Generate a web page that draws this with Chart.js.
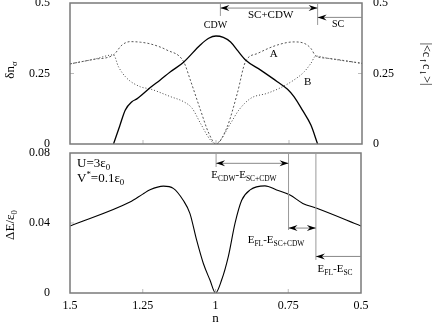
<!DOCTYPE html>
<html>
<head>
<meta charset="utf-8">
<script src="https://cdn.jsdelivr.net/npm/chart.js@4.4.0/dist/chart.umd.min.js"></script>
<style>
  html, body { margin: 0; padding: 0; background: #fff; }
  #wrap { position: relative; width: 436px; height: 327px; }
  canvas { position: absolute; left: 0; top: 0; }
</style>
</head>
<body>
<div id="wrap">
  <canvas id="topChart" width="436" height="327"></canvas>
  <canvas id="bottomChart" width="436" height="327"></canvas>
</div>
<script>
// axis ticks
const nTicks = [1.5, 1.25, 1, 0.75, 0.5];
const orderTicks = [0, 0.25, 0.5];
const energyTicks = [0, 0.04, 0.08];

// top panel: CDW order parameter (left axis)
const cdwN = [1.351, 1.33, 1.311, 1.288, 1.271, 1.225, 1.191, 1.156, 1.111, 1.053, 1.025, 1.0, 0.975, 0.95, 0.925, 0.899, 0.847, 0.79, 0.755, 0.733, 0.704, 0.675, 0.652];
const cdwVal = [0, 0.063, 0.12, 0.15, 0.16, 0.2, 0.227, 0.256, 0.29, 0.352, 0.375, 0.383, 0.378, 0.362, 0.33, 0.298, 0.262, 0.221, 0.194, 0.168, 0.12, 0.067, 0];

// top panel: SC amplitude, branch A (right axis)
const scAN = [1.5, 1.42, 1.351, 1.322, 1.294, 1.259, 1.225, 1.168, 1.111, 1.088, 1.053, 1.025, 1.0, 0.962, 0.927, 0.899, 0.858, 0.79, 0.733, 0.698, 0.675, 0.658, 0.618, 0.5];
const scAVal = [0.284, 0.3, 0.316, 0.351, 0.363, 0.361, 0.355, 0.333, 0.292, 0.227, 0.12, 0.039, 0, 0.06, 0.18, 0.292, 0.321, 0.351, 0.362, 0.357, 0.339, 0.312, 0.304, 0.286];

// top panel: SC amplitude, branch B (right axis)
const scBN = [1.5, 1.42, 1.351, 1.334, 1.305, 1.259, 1.225, 1.156, 1.111, 1.082, 1.053, 1.019, 1.0, 0.985, 0.95, 0.922, 0.881, 0.824, 0.778, 0.733, 0.698, 0.675, 0.658, 0.618, 0.5];
const scBVal = [0.284, 0.3, 0.316, 0.274, 0.233, 0.203, 0.195, 0.168, 0.15, 0.127, 0.073, 0.014, 0, 0.014, 0.073, 0.12, 0.162, 0.18, 0.2, 0.227, 0.256, 0.286, 0.312, 0.304, 0.286];

// bottom panel: energy difference
const dEN = [1.5, 1.294, 1.25, 1.225, 1.179, 1.145, 1.111, 1.088, 1.065, 1.042, 1.019, 1.0, 0.979, 0.956, 0.933, 0.91, 0.881, 0.83, 0.79, 0.744, 0.7, 0.652, 0.5];
const dEVal = [0.0383, 0.052, 0.0565, 0.059, 0.0611, 0.0598, 0.053, 0.0455, 0.0303, 0.017, 0.0074, 0, 0.0074, 0.0208, 0.0398, 0.053, 0.0589, 0.0612, 0.0589, 0.056, 0.0512, 0.0484, 0.0383];

const FONT = "'Liberation Serif', 'Times New Roman', serif";
Chart.defaults.font.family = FONT;
Chart.defaults.font.size = 12;
Chart.defaults.color = "#000";

const pts = (xs, ys) => xs.map((x, i) => ({ x: x, y: ys[i] }));
const fixTicks = (vals) => (scale) => { scale.ticks = vals.map((v) => ({ value: v })); };
const fixWidth = (w) => (scale) => { scale.width = w; scale.paddingTop = 0; scale.paddingBottom = 0; };

// text with sub/superscripts, parts = [[text, kind, family]], kind 1 = sub, 2 = sup
function rich(ctx, parts, x, y, size, align) {
  const fonts = parts.map((p) => (p[1] ? size * 0.68 : size) + "px " + (p[2] || FONT));
  let w = 0;
  parts.forEach((p, i) => { ctx.font = fonts[i]; w += ctx.measureText(p[0]).width; });
  let cx = align === "center" ? x - w / 2 : align === "right" ? x - w : x;
  ctx.textAlign = "left";
  ctx.textBaseline = "alphabetic";
  ctx.fillStyle = "#000";
  parts.forEach((p, i) => {
    ctx.font = fonts[i];
    const dy = p[1] === 1 ? size * 0.25 : p[1] === 2 ? -size * 0.4 : 0;
    ctx.fillText(p[0], cx, y + dy);
    cx += ctx.measureText(p[0]).width;
  });
}

function vline(ctx, x, y1, y2) {
  ctx.strokeStyle = "#999";
  ctx.lineWidth = 1;
  ctx.beginPath(); ctx.moveTo(x, y1); ctx.lineTo(x, y2); ctx.stroke();
}

function head(ctx, x, y, dir) {
  ctx.fillStyle = "#000";
  ctx.beginPath();
  ctx.moveTo(x, y);
  ctx.lineTo(x - dir * 9, y - 3);
  ctx.lineTo(x - dir * 6, y);
  ctx.lineTo(x - dir * 9, y + 3);
  ctx.closePath();
  ctx.fill();
}

function arrow(ctx, x1, x2, y, both) {
  ctx.strokeStyle = "#888";
  ctx.lineWidth = 1;
  ctx.beginPath(); ctx.moveTo(x1, y); ctx.lineTo(x2, y); ctx.stroke();
  const d = x2 > x1 ? 1 : -1;
  head(ctx, x2, y, d);
  if (both) head(ctx, x1, y, -d);
}

function drawFrame(chart, yIds) {
  const { ctx, chartArea: a, scales } = chart;
  ctx.save();
  ctx.strokeStyle = "#bbb";
  ctx.lineWidth = 1;
  nTicks.slice(1, -1).forEach((v) => {
    const x = scales.x.getPixelForValue(v);
    ctx.beginPath(); ctx.moveTo(x, a.bottom); ctx.lineTo(x, a.bottom - 4); ctx.stroke();
  });
  yIds.forEach((id) => {
    const s = scales[id];
    s.ticks.slice(1, -1).forEach((t) => {
      const y = s.getPixelForValue(t.value);
      const x0 = s.position === "left" ? a.left : a.right;
      const x1 = s.position === "left" ? a.left + 4 : a.right - 4;
      ctx.beginPath(); ctx.moveTo(x0, y); ctx.lineTo(x1, y); ctx.stroke();
    });
  });
  ctx.strokeStyle = "#7a7a7a";
  ctx.lineWidth = 1.5;
  ctx.strokeRect(a.left, a.top, a.right - a.left, a.bottom - a.top);
  ctx.restore();
}

const topDecor = {
  id: "topDecor",
  afterDatasetsDraw(chart) {
    const { ctx, scales } = chart;
    const X = (v) => scales.x.getPixelForValue(v);
    const Y = (v) => scales.y.getPixelForValue(v);
    drawFrame(chart, ["y", "y2"]);
    ctx.save();
    vline(ctx, X(0.985), Y(0.5), Y(0.454));
    vline(ctx, X(0.652), Y(0.5), Y(0.422));
    arrow(ctx, X(0.985), X(0.652), Y(0.482), true);
    arrow(ctx, X(0.5), X(0.652), Y(0.449), false);
    rich(ctx, [["CDW"]], X(1.002), Y(0.426) + 4, 10, "center");
    rich(ctx, [["SC+CDW"]], X(0.813), Y(0.461) + 4, 11, "center");
    rich(ctx, [["SC"]], X(0.582), Y(0.429) + 4, 10, "center");
    rich(ctx, [["A"]], X(0.802), Y(0.323) + 4, 11, "center");
    rich(ctx, [["B"]], X(0.686), Y(0.223) + 4, 11, "center");
    // axis titles
    ctx.save();
    ctx.translate(14, 70);
    ctx.rotate(-Math.PI / 2);
    rich(ctx, [["δn"], ["σ", 1]], 0, 0, 13, "center");
    ctx.restore();
    ctx.save();
    ctx.translate(423, 64);
    ctx.rotate(Math.PI / 2);
    rich(ctx, [["|<c"], ["\u2191", 1, "'DejaVu Serif'"], ["c"], ["\u2193", 1, "'DejaVu Serif'"], [">|"]], 0, 0, 12, "center");
    ctx.restore();
    ctx.restore();
  }
};

const bottomDecor = {
  id: "bottomDecor",
  afterDatasetsDraw(chart) {
    const { ctx, scales } = chart;
    const X = (v) => scales.x.getPixelForValue(v);
    const Y = (v) => scales.y.getPixelForValue(v);
    drawFrame(chart, ["y"]);
    ctx.save();
    vline(ctx, X(0.998), Y(0.08), Y(0.072));
    vline(ctx, X(0.749), Y(0.08), Y(0.036));
    vline(ctx, X(0.655), Y(0.08), Y(0.0189));
    arrow(ctx, X(0.998), X(0.749), Y(0.0741), true);
    arrow(ctx, X(0.749), X(0.655), Y(0.0371), true);
    arrow(ctx, X(0.5), X(0.655), Y(0.0209), false);
    rich(ctx, [["E"], ["CDW", 1], ["-E"], ["SC+CDW", 1]], X(0.902), Y(0.068) + 4, 11, "center");
    rich(ctx, [["E"], ["FL", 1], ["-E"], ["SC+CDW", 1]], X(0.792), Y(0.0309) + 4, 11, "center");
    rich(ctx, [["E"], ["FL", 1], ["-E"], ["SC", 1]], X(0.589), Y(0.0143) + 4, 11, "center");
    rich(ctx, [["U=3ε"], ["0", 1]], 77, 167, 13, "left");
    rich(ctx, [["V"], ["*", 2], ["=0.1ε"], ["0", 1]], 77, 182, 13, "left");
    ctx.save();
    ctx.translate(14, 225);
    ctx.rotate(-Math.PI / 2);
    rich(ctx, [["ΔE/ε"], ["0", 1]], 0, 0, 13, "center");
    ctx.restore();
    rich(ctx, [["n"]], X(1), 322, 13, "center");
    ctx.restore();
  }
};

const lineStyle = { pointRadius: 0, fill: false, cubicInterpolationMode: "monotone" };

new Chart(document.getElementById("topChart"), {
  type: "line",
  data: {
    datasets: [
      Object.assign({ data: pts(cdwN, cdwVal), borderColor: "#000", borderWidth: 1.3, yAxisID: "y" }, lineStyle),
      Object.assign({ data: pts(scAN, scAVal), borderColor: "#555", borderWidth: 1, borderDash: [2, 2], yAxisID: "y2" }, lineStyle),
      Object.assign({ data: pts(scBN, scBVal), borderColor: "#444", borderWidth: 1, borderDash: [1, 2], yAxisID: "y2" }, lineStyle)
    ]
  },
  options: {
    responsive: false,
    animation: false,
    layout: { padding: { top: 3, bottom: 183, left: 0, right: 0 } },
    plugins: { legend: { display: false }, tooltip: { enabled: false } },
    scales: {
      x: { type: "linear", min: 0.5, max: 1.5, reverse: true, display: false },
      y: {
        position: "left", min: 0, max: 0.5,
        afterBuildTicks: fixTicks(orderTicks), afterFit: fixWidth(70),
        grid: { display: false, drawTicks: false }, border: { display: false },
        ticks: { padding: 20, callback: (v) => String(v) }
      },
      y2: {
        position: "right", min: 0, max: 0.5,
        afterBuildTicks: fixTicks(orderTicks), afterFit: fixWidth(74),
        grid: { display: false, drawTicks: false }, border: { display: false },
        ticks: { padding: 11, callback: (v) => String(v) }
      }
    }
  },
  plugins: [topDecor]
});

new Chart(document.getElementById("bottomChart"), {
  type: "line",
  data: {
    datasets: [
      Object.assign({ data: pts(dEN, dEVal), borderColor: "#000", borderWidth: 1.1 }, lineStyle)
    ]
  },
  options: {
    responsive: false,
    animation: false,
    layout: { padding: { top: 153, bottom: 0, left: 0, right: 75 } },
    plugins: { legend: { display: false }, tooltip: { enabled: false } },
    scales: {
      x: {
        type: "linear", min: 0.5, max: 1.5, reverse: true,
        afterBuildTicks: fixTicks(nTicks),
        afterFit: (s) => { s.height = 34; },
        grid: { display: false, drawTicks: false }, border: { display: false },
        ticks: { padding: 6, maxRotation: 0, callback: (v) => String(v) }
      },
      y: {
        position: "left", min: 0, max: 0.08,
        afterBuildTicks: fixTicks(energyTicks), afterFit: fixWidth(70),
        grid: { display: false, drawTicks: false }, border: { display: false },
        ticks: { padding: 20, callback: (v) => String(v) }
      }
    }
  },
  plugins: [bottomDecor]
});
</script>
</body>
</html>
